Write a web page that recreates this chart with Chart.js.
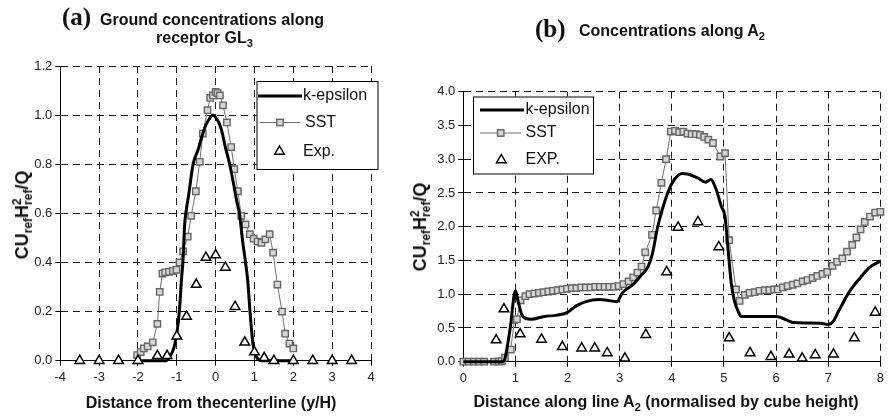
<!DOCTYPE html>
<html lang="en">
<head>
<meta charset="utf-8">
<title>Concentrations</title>
<script src="https://cdn.jsdelivr.net/npm/chart.js@4.4.1/dist/chart.umd.min.js"></script>
<style>
  html, body { margin: 0; padding: 0; background: #fff; }
  #page { position: relative; width: 888px; height: 417px; overflow: hidden;
          font-family: "Liberation Sans", Arial, sans-serif; color: #111; }
  canvas { position: absolute; top: 0; }
  #graficoA { left: 0; }
  #graficoB { left: 400px; }
  .t { position: absolute; white-space: nowrap; font-weight: bold; font-size: 16px; line-height: 1; }
  .serif { font-family: "Liberation Serif", "Times New Roman", serif; font-size: 25px; }
  .t sub, .t sup { line-height: 0; }
  .t sub { font-size: 11px; vertical-align: -4px; }
  .centro { transform: translateX(-50%); }
  .ytit { font-size: 18px; transform: translate(-50%, -50%) rotate(-90deg); }
  .ytit sub, .ytit sup { font-size: 12px; }
  .ytit sup { vertical-align: 7px; }
  .ytit sub { vertical-align: -4px; }
  .ytit .recuo { margin-left: -6.7px; }
</style>
</head>
<body>
<div id="page">
  <canvas id="graficoA" width="444" height="417"></canvas>
  <canvas id="graficoB" width="488" height="417"></canvas>

  <div class="t serif" style="left:62px; top:4px;">(a)</div>
  <div class="t" style="left:100px; top:11.5px;">Ground concentrations along</div>
  <div class="t" style="left:156px; top:30px;">receptor GL<sub>3</sub></div>
  <div class="t ytit" style="left:22px; top:215px;">CU<sub>ref</sub>H<sup>2</sup><sub class="recuo">ref</sub>/Q</div>
  <div class="t centro" style="left:211px; top:394.5px;">Distance from thecenterline (y/H)</div>

  <div class="t serif" style="left:535px; top:16px;">(b)</div>
  <div class="t" style="left:579px; top:23px;">Concentrations along A<sub>2</sub></div>
  <div class="t ytit" style="left:420px; top:227px;">CU<sub>ref</sub>H<sup>2</sup><sub class="recuo">ref</sub>/Q</div>
  <div class="t centro" style="left:666px; top:393.5px;">Distance along line A<sub>2</sub> (normalised by cube height)</div>
</div>

<script>
// (a) Ground concentrations along receptor GL3
const xTicksA = [-4, -3, -2, -1, 0, 1, 2, 3, 4];
const yTicksA = [0, 0.2, 0.4, 0.6, 0.8, 1.0, 1.2];
const legendLabelsA = ['k-epsilon', 'SST', 'Exp.'];

const kEpsilonAX = [-2, -1.5, -1.27, -1.18, -1.08, -1.01, -0.96, -0.93, -0.88, -0.84, -0.80, -0.75, -0.70, -0.58,
    -0.45, -0.37, -0.25, -0.14, -0.07, 0.0, 0.08, 0.15, 0.25, 0.36, 0.45, 0.53, 0.62, 0.70, 0.77, 0.83, 0.88,
    0.96, 1.05, 1.2, 1.5, 2.0];
const kEpsilonAY = [0, 0, 0, 0.016, 0.05, 0.1, 0.16, 0.21, 0.33, 0.41, 0.55, 0.62, 0.67, 0.80,
    0.86, 0.905, 0.96, 0.99, 1.0, 0.99, 0.97, 0.94, 0.87, 0.80, 0.73, 0.66, 0.59, 0.48, 0.40, 0.32, 0.21,
    0.07, 0.016, 0, 0, 0];

const sstAX = [-2.02, -1.93, -1.85, -1.75, -1.62, -1.5, -1.44, -1.37, -1.3, -1.2, -1.1, -1.01, -0.93, -0.84,
    -0.72, -0.63, -0.51, -0.41, -0.33, -0.21, -0.14, -0.07, 0.0, 0.05, 0.11, 0.19, 0.29, 0.40, 0.48, 0.57,
    0.66, 0.77, 0.88, 0.98, 1.08, 1.18, 1.28, 1.39, 1.48, 1.59, 1.71, 1.79, 1.9, 2.0];
const sstAY = [0.023, 0.035, 0.05, 0.058, 0.075, 0.15, 0.28, 0.355, 0.36, 0.362, 0.365, 0.37, 0.40, 0.445,
    0.505, 0.59, 0.69, 0.81, 0.925, 1.02, 1.07, 1.08, 1.095, 1.09, 1.08, 1.04, 0.97, 0.87, 0.78, 0.69,
    0.59, 0.555, 0.515, 0.497, 0.485, 0.48, 0.494, 0.515, 0.44, 0.31, 0.2, 0.11, 0.07, 0.05];

const expAX = [-3.5, -3, -2.5, -2, -1.5, -1.25, -1.0, -0.75, -0.5, -0.25, 0, 0.25, 0.5, 0.75, 1.0, 1.25, 1.5, 2, 2.5, 3, 3.5];
const expAY = [0, 0, 0, 0, 0.02, 0.02, 0.1, 0.18, 0.31, 0.42, 0.43, 0.38, 0.22, 0.075, 0.035, 0.012, 0, 0, 0, 0, 0];

// (b) Concentrations along A2
const xTicksB = [0, 1, 2, 3, 4, 5, 6, 7, 8];
const yTicksB = [0, 0.5, 1.0, 1.5, 2.0, 2.5, 3.0, 3.5, 4.0];
const legendLabelsB = ['k-epsilon', 'SST', 'EXP.'];

const kEpsilonBX = [0, 0.5, 0.75, 0.8, 0.9, 1.0, 1.05, 1.12, 1.2, 1.3, 1.55, 1.8, 2.0, 2.15, 2.35, 2.6, 2.75, 2.95,
    3.05, 3.25, 3.4, 3.55, 3.63, 3.73, 3.92, 4.05, 4.2, 4.3, 4.5, 4.65, 4.75, 4.85, 4.95, 5.02, 5.08, 5.14,
    5.2, 5.27, 5.33, 6.0, 6.35, 6.85, 7.0, 7.1, 7.2, 7.4, 7.6, 7.8, 8.0];
const kEpsilonBY = [0, 0, 0, 0.05, 0.5, 1.05, 0.9, 0.7, 0.64, 0.63, 0.67, 0.69, 0.73, 0.82, 0.89, 0.92, 0.91, 0.89,
    1.02, 1.14, 1.27, 1.42, 1.61, 2.0, 2.5, 2.7, 2.79, 2.78, 2.72, 2.66, 2.70, 2.55, 2.3, 2.15, 1.65, 1.16,
    0.9, 0.75, 0.67, 0.67, 0.58, 0.57, 0.55, 0.6, 0.75, 1.03, 1.23, 1.4, 1.49];

const sstBX = [0, 0.1, 0.2, 0.3, 0.4, 0.59, 0.68, 0.74, 0.8, 0.91, 0.98, 1.03, 1.1, 1.19, 1.27, 1.36, 1.45, 1.54,
    1.63, 1.72, 1.81, 1.90, 1.99, 2.08, 2.17, 2.26, 2.35, 2.44, 2.53, 2.62, 2.71, 2.80, 2.89, 2.98, 3.07, 3.17,
    3.26, 3.34, 3.42, 3.49, 3.62, 3.70, 3.80, 3.89, 3.98, 4.06, 4.14, 4.22, 4.30, 4.38, 4.46, 4.54, 4.62, 4.70,
    4.79, 4.93, 5.02, 5.10, 5.23, 5.30, 5.40, 5.49, 5.59, 5.68, 5.78, 5.87, 5.96, 6.03, 6.13, 6.22, 6.32, 6.41,
    6.51, 6.60, 6.70, 6.79, 6.89, 6.98, 7.08, 7.17, 7.27, 7.36, 7.46, 7.54, 7.62, 7.70, 7.80, 7.90, 8.0];
const sstBY = [0, 0, 0, 0, 0, 0, 0, 0.01, 0.06, 0.18, 0.62, 0.63, 0.91, 0.97, 1.0, 1.01, 1.02, 1.03,
    1.04, 1.05, 1.06, 1.07, 1.08, 1.09, 1.09, 1.10, 1.10, 1.10, 1.11, 1.11, 1.11, 1.11, 1.11, 1.12, 1.15, 1.19,
    1.25, 1.32, 1.41, 1.62, 1.88, 2.24, 2.65, 3.0, 3.41, 3.42, 3.40, 3.41, 3.38, 3.37, 3.37, 3.36, 3.33, 3.29,
    3.24, 3.04, 3.09, 1.80, 1.07, 0.90, 0.99, 1.02, 1.03, 1.05, 1.06, 1.06, 1.07, 1.07, 1.10, 1.12, 1.14, 1.16,
    1.19, 1.21, 1.24, 1.27, 1.30, 1.33, 1.42, 1.48, 1.53, 1.63, 1.73, 1.84, 1.96, 2.07, 2.15, 2.21, 2.22];

const expBX = [0.63, 0.78, 1.09, 1.5, 1.9, 2.27, 2.52, 2.76, 3.1, 3.5, 3.9, 4.12, 4.5, 4.9, 5.1, 5.5, 5.9, 6.25,
    6.5, 6.75, 7.1, 7.5, 7.9];
const expBY = [0.32, 0.78, 0.41, 0.33, 0.22, 0.2, 0.2, 0.13, 0.05, 0.4, 1.33, 1.99, 2.07, 1.70, 0.35, 0.13, 0.075,
    0.11, 0.05, 0.1, 0.11, 0.35, 0.73];

let graficoA = null;
let graficoB = null;

const FONTE = '"Liberation Sans", Arial, sans-serif';

// Juntar x e y em pontos
function toPoints(xs, ys) {
    return xs.map((x, i) => ({ x: x, y: ys[i] }));
}

// Legenda desenhada dentro da area do grafico
const boxLegend = {
    id: 'boxLegend',
    afterDraw(chart, args, opts) {
        const ctx = chart.ctx;
        const b = opts.box;
        ctx.save();
        ctx.fillStyle = '#fff';
        ctx.fillRect(b.x, b.y, b.w, b.h);
        ctx.strokeStyle = '#000';
        ctx.lineWidth = 1;
        ctx.strokeRect(b.x + 0.5, b.y + 0.5, b.w, b.h);

        ctx.font = '16px ' + FONTE;
        ctx.textBaseline = 'middle';
        opts.rows.forEach((r, i) => {
            if (i === 0) {
                ctx.strokeStyle = '#000';
                ctx.lineWidth = 3;
                ctx.beginPath();
                ctx.moveTo(r.x1, r.y);
                ctx.lineTo(r.x2, r.y);
                ctx.stroke();
            } else if (i === 1) {
                ctx.strokeStyle = '#707070';
                ctx.lineWidth = 1;
                ctx.beginPath();
                ctx.moveTo(r.x1, r.y);
                ctx.lineTo(r.x2, r.y);
                ctx.stroke();
                ctx.fillStyle = '#d6d6d6';
                ctx.strokeStyle = '#666';
                ctx.lineWidth = 1.4;
                ctx.fillRect(r.mx - 3.2, r.y - 3.2, 6.4, 6.4);
                ctx.strokeRect(r.mx - 3.2, r.y - 3.2, 6.4, 6.4);
            } else {
                ctx.fillStyle = '#fff';
                ctx.strokeStyle = '#000';
                ctx.lineWidth = 1.5;
                ctx.beginPath();
                ctx.moveTo(r.mx, r.y - 5.5);
                ctx.lineTo(r.mx + 4.76, r.y + 2.75);
                ctx.lineTo(r.mx - 4.76, r.y + 2.75);
                ctx.closePath();
                ctx.fill();
                ctx.stroke();
            }
            ctx.fillStyle = '#111';
            ctx.fillText(opts.labels[i], r.tx, r.y);
        });
        ctx.restore();
    }
};

// Escala linear com ticks fixos
function escala(ticksList, size, isY) {
    return {
        type: 'linear',
        min: ticksList[0],
        max: ticksList[ticksList.length - 1],
        afterBuildTicks: scale => { scale.ticks = ticksList.map(v => ({ value: v })); },
        afterFit: scale => {
            if (isY) scale.width = size;
            else scale.height = size;
        },
        ticks: {
            color: '#222',
            font: { family: FONTE, size: 13 },
            padding: isY ? 3 : 4,
            autoSkip: false,
            maxRotation: 0,
            callback: isY ? (v => Number(v).toFixed(1)) : (v => String(v))
        },
        grid: { color: '#1a1a1a', lineWidth: 1, tickLength: 5, tickColor: '#000', tickBorderDash: [] },
        border: { display: true, color: '#000', width: 1, dash: [7, 5] }
    };
}

function datasets(kx, ky, sx, sy, ex, ey, labels) {
    return [
        {
            label: labels[0],
            data: toPoints(kx, ky),
            borderColor: '#000',
            borderWidth: 3,
            pointRadius: 0,
            cubicInterpolationMode: 'monotone',
            fill: false,
            clip: false,
            order: 1
        },
        {
            label: labels[1],
            data: toPoints(sx, sy),
            borderColor: '#707070',
            borderWidth: 1,
            pointStyle: 'rect',
            pointRadius: 4.5,
            pointBorderWidth: 1.4,
            pointBorderColor: '#666',
            pointBackgroundColor: '#d6d6d6',
            tension: 0,
            fill: false,
            clip: false,
            order: 2
        },
        {
            label: labels[2],
            data: toPoints(ex, ey),
            showLine: false,
            pointStyle: 'triangle',
            pointRadius: 5.5,
            pointBorderWidth: 1.5,
            pointBorderColor: '#000',
            pointBackgroundColor: '#fff',
            clip: false,
            order: 0
        }
    ];
}

function criarGraficoA() {
    const ctx = document.getElementById('graficoA');
    if (graficoA) graficoA.destroy();
    graficoA = new Chart(ctx, {
        type: 'line',
        data: { datasets: datasets(kEpsilonAX, kEpsilonAY, sstAX, sstAY, expAX, expAY, legendLabelsA) },
        options: {
            responsive: false,
            animation: false,
            devicePixelRatio: 1,
            layout: { padding: { left: 0, top: 66, right: 73, bottom: 0 } },
            scales: {
                x: escala(xTicksA, 56.3, false),
                y: escala(yTicksA, 60.3, true)
            },
            plugins: {
                legend: { display: false },
                tooltip: { enabled: false },
                boxLegend: {
                    labels: legendLabelsA,
                    box: { x: 256.5, y: 81, w: 121, h: 88 },
                    rows: [
                        { y: 96, x1: 258, x2: 302, tx: 303 },
                        { y: 122.5, x1: 260, x2: 300, mx: 280, tx: 305 },
                        { y: 151.5, mx: 279.5, tx: 303 }
                    ]
                }
            }
        },
        plugins: [boxLegend]
    });
}

function criarGraficoB() {
    const ctx = document.getElementById('graficoB');
    if (graficoB) graficoB.destroy();
    graficoB = new Chart(ctx, {
        type: 'line',
        data: { datasets: datasets(kEpsilonBX, kEpsilonBY, sstBX, sstBY, expBX, expBY, legendLabelsB) },
        options: {
            responsive: false,
            animation: false,
            devicePixelRatio: 1,
            layout: { padding: { left: 0, top: 91.7, right: 4.7, bottom: 0 } },
            scales: {
                x: escala(xTicksB, 55.3, false),
                y: escala(yTicksB, 63.3, true)
            },
            plugins: {
                legend: { display: false },
                tooltip: { enabled: false },
                boxLegend: {
                    labels: legendLabelsB,
                    box: { x: 73, y: 96.5, w: 120, h: 77 },
                    rows: [
                        { y: 110, x1: 80, x2: 124, tx: 125.5 },
                        { y: 133, x1: 80, x2: 121, mx: 100.7, tx: 125.5 },
                        { y: 160, mx: 101.3, tx: 125.5 }
                    ]
                }
            }
        },
        plugins: [boxLegend]
    });
}

document.addEventListener('DOMContentLoaded', function() {
    criarGraficoA();
    criarGraficoB();
});
</script>
</body>
</html>
